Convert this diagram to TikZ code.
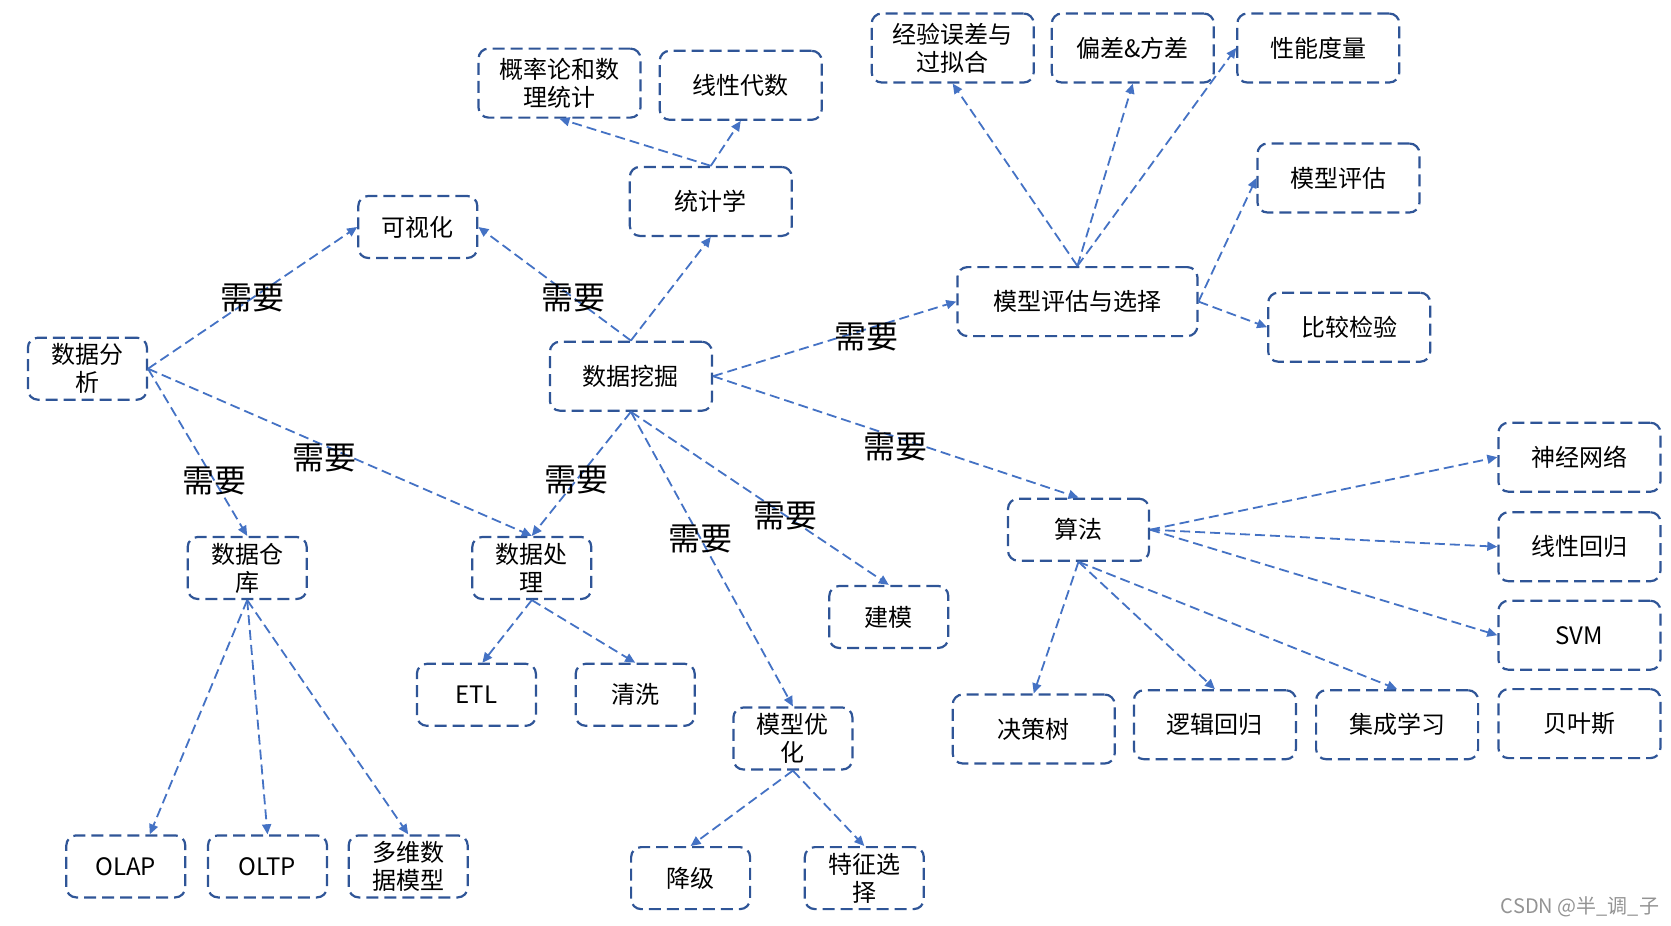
\documentclass[tikz,border=0pt]{standalone}
\usepackage{fontspec}
\setmainfont{Noto Sans CJK SC}
\usetikzlibrary{arrows.meta,positioning}
\definecolor{boxblue}{HTML}{2F5597}
\definecolor{lineblue}{HTML}{4472C4}

\begin{document}
\begin{tikzpicture}[x=0.5pt,y=-0.5pt,
  box/.style={draw=boxblue,line width=1.1pt,dash pattern=on 6pt off 3pt,rounded corners=5pt,
    minimum width=59.5pt,minimum height=31pt,align=center,inner sep=1pt,
    font=\fontsize{12}{14}\selectfont},
  wide/.style={box,minimum width=81pt,minimum height=34.5pt},
  need/.style={-{Triangle[length=5pt,width=4.5pt]},draw=lineblue,line width=0.9pt,
    dash pattern=on 5pt off 2.5pt},
  lbl/.style={font=\fontsize{16}{17}\selectfont,text=black}]
\useasboundingbox (0,0) rectangle (1671,926);

\node[box] (analysis) at (87.4,368.7) {数据分\\析};
\node[box] (visual) at (417.8,227) {可视化};
\node[wide] (prob) at (559.5,83.1) {概率论和数\\理统计};
\node[wide] (linalg) at (740.7,85.3) {线性代数};
\node[wide] (stats) at (710.8,201.4) {统计学};
\node[wide] (mining) at (630.9,376.2) {数据挖掘};
\node[wide] (empirical) at (952.7,48) {经验误差与\\过拟合};
\node[wide] (bias) at (1132.8,48) {偏差\&方差};
\node[wide] (perf) at (1318.3,48) {性能度量};
\node[wide] (evaluate) at (1338.5,178) {模型评估};
\node[wide,minimum width=120pt] (select) at (1077.4,301.6) {模型评估与选择};
\node[wide] (compare) at (1349.2,327.2) {比较检验};
\node[wide] (nn) at (1579.4,457.2) {神经网络};
\node[box,minimum width=70.5pt] (algo) at (1078.5,529.7) {算法};
\node[wide] (linreg) at (1579.4,546.7) {线性回归};
\node[wide] (svm) at (1579.4,635.2) {SVM};
\node[wide] (bayes) at (1579.4,723.6) {贝叶斯};
\node[wide] (tree) at (1033.7,729) {决策树};
\node[wide] (logreg) at (1214.9,724.7) {逻辑回归};
\node[wide] (ensemble) at (1397.1,724.7) {集成学习};
\node[box] (warehouse) at (247.2,568) {数据仓\\库};
\node[box] (process) at (531.8,568) {数据处\\理};
\node[box] (modeling) at (888.8,617) {建模};
\node[box] (etl) at (476.4,694.8) {ETL};
\node[box] (clean) at (635.2,694.8) {清洗};
\node[box] (optimize) at (792.9,738.5) {模型优\\化};
\node[box] (olap) at (125.8,866.4) {OLAP};
\node[box] (oltp) at (267.5,866.4) {OLTP};
\node[box] (cube) at (408.2,866.4) {多维数\\据模型};
\node[box] (degrade) at (690.6,878.1) {降级};
\node[box] (feature) at (864.3,878.1) {特征选\\择};
\node[text=gray!85,font=\fontsize{10}{12}\selectfont] (mark) at (1580,907) {CSDN @半\_调\_子};

% 需要
\draw[need] (analysis.east) -- node[lbl,pos=0.5] (l1) {需要} (visual.west);
\draw[need] (analysis.east) -- node[lbl,pos=0.67] (l2) {需要} (warehouse.north);
\draw[need] (analysis.east) -- node[lbl,pos=0.46,yshift=-6pt] (l3) {需要} (process.north);
\draw[need] (mining.north) -- node[lbl,pos=0.375] (l4) {需要} (visual.east);
\draw[need] (mining.east) -- node[lbl,pos=0.63,yshift=-4pt] (l5) {需要} (select.west);
\draw[need] (mining.east) -- node[lbl,pos=0.5,yshift=-5pt] (l6) {需要} (algo.north);
\draw[need] (mining.south) -- node[lbl,pos=0.55] (l7) {需要} (process.north);
\draw[need] (mining.south) -- node[lbl,pos=0.43] (l8) {需要} (optimize.north);
\draw[need] (mining.south) -- node[lbl,pos=0.6] (l9) {需要} (modeling.north);

\draw[need] (mining.north) -- (stats.south);
\draw[need] (stats.north) -- (prob.south);
\draw[need] (stats.north) -- (linalg.south);

\draw[need] (select.north) -- (empirical.south);
\draw[need] (select.north) -- (bias.south);
\draw[need] (select.north) -- (perf.west);
\draw[need] (select.east) -- (evaluate.west);
\draw[need] (select.east) -- (compare.west);

\draw[need] (algo.east) -- (nn.west);
\draw[need] (algo.east) -- (linreg.west);
\draw[need] (algo.east) -- (svm.west);
\draw[need] (algo.south) -- (tree.north);
\draw[need] (algo.south) -- (logreg.north);
\draw[need] (algo.south) -- (ensemble.north);

\draw[need] (warehouse.south) -- ([xshift=12pt]olap.north);
\draw[need] (warehouse.south) -- (oltp.north);
\draw[need] (warehouse.south) -- (cube.north);
\draw[need] (process.south) -- ([xshift=3pt]etl.north);
\draw[need] (process.south) -- (clean.north);
\draw[need] (optimize.south) -- (degrade.north);
\draw[need] (optimize.south) -- (feature.north);

\end{tikzpicture}
\end{document}
